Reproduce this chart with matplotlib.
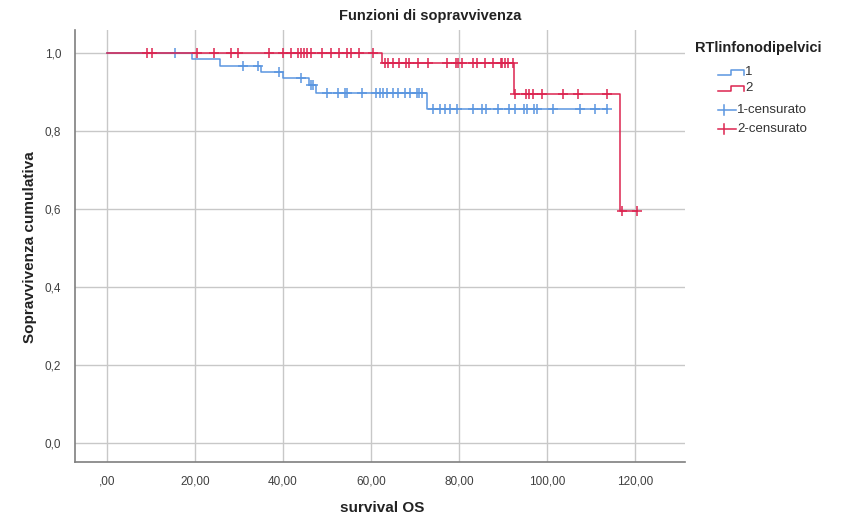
import matplotlib
matplotlib.use("Agg")
import numpy as np
from matplotlib import pyplot as plt
from matplotlib.lines import Line2D

plt.rcParams['font.family'] = ['Liberation Sans', 'DejaVu Sans']

# Kaplan-Meier steps (time, cumulative survival) and censored times per group
g1_times = [0, 19.4, 25.7, 35.0, 39.9, 46.0, 47.6, 72.7]
g1_surv = [1.0, 0.984, 0.967, 0.951, 0.935, 0.918, 0.897, 0.856]
g1_censored = [15.5, 30.8, 34.2, 39.1, 44.0, 46.4, 46.8, 49.9, 52.6, 54.1, 54.6,
               57.9, 61.1, 62.0, 62.8, 63.7, 65.1, 66.2, 67.7, 68.9, 70.5, 71.0,
               71.5, 74.2, 75.7, 76.8, 78.0, 79.6, 83.1, 85.2, 86.1, 88.9, 91.4,
               92.7, 94.8, 95.5, 97.0, 97.7, 101.4, 107.5, 110.9, 113.6]

g2_times = [0, 62.4, 92.5, 116.6]
g2_surv = [1.0, 0.974, 0.894, 0.596]
g2_censored = [9.0, 10.1, 20.5, 24.2, 28.1, 29.8, 36.7, 40.1, 41.8, 43.5, 44.0,
               44.8, 45.5, 46.4, 48.8, 50.8, 52.8, 54.5, 55.5, 57.3, 60.4, 63.2,
               63.9, 65.1, 66.4, 67.9, 68.7, 70.8, 72.9, 77.2, 79.3, 79.8, 80.6,
               83.1, 84.1, 85.9, 87.8, 89.5, 89.9, 90.5, 91.2, 92.2, 92.7, 95.2,
               96.0, 96.9, 98.9, 103.6, 107.1, 113.6, 117.0, 120.4]

x_ticks = [0, 20, 40, 60, 80, 100, 120]
x_ticklabels = [',00', '20,00', '40,00', '60,00', '80,00', '100,00', '120,00']
y_ticks = [0.0, 0.2, 0.4, 0.6, 0.8, 1.0]
y_ticklabels = ['0,0', '0,2', '0,4', '0,6', '0,8', '1,0']

blue = '#5b96e0'
red = '#dc2450'


def surv_at(times, surv, t):
    idx = np.searchsorted(times, t, side='right') - 1
    return np.array(surv)[idx]


W, H = 865, 518
fig = plt.figure(figsize=(W / 100, H / 100), dpi=100)
ax = fig.add_axes([75 / W, 1 - 462 / H, 610 / W, 432 / H])


def draw_group(times, surv, censored, color):
    end = max(censored[-1], times[-1])
    xs = list(times) + [end]
    ys = list(surv) + [surv[-1]]
    ax.step(xs, ys, where='post', color=color, lw=1.1)
    cy = surv_at(times, surv, censored)
    ax.plot(censored, cy, ls='none', marker='+', ms=7, mew=1.1, color=color)


draw_group(g1_times, g1_surv, g1_censored, blue)
draw_group(g2_times, g2_surv, g2_censored, red)

ax.set_xlim(-7.3, 131.4)
ax.set_ylim(-0.049, 1.059)
ax.set_xticks(x_ticks)
ax.set_xticklabels(x_ticklabels)
ax.set_yticks(y_ticks)
ax.set_yticklabels(y_ticklabels)
ax.grid(True, color='#c8c8c8', lw=1.0)
ax.set_axisbelow(True)
for s in ['top', 'right']:
    ax.spines[s].set_visible(False)
for s in ['left', 'bottom']:
    ax.spines[s].set_color('#7f7f7f')
    ax.spines[s].set_linewidth(1.2)
ax.tick_params(length=0, labelsize=8.5, labelcolor='#404040', pad=10)

fig.text(430 / W, 1 - 16 / H, 'Funzioni di sopravvivenza', ha='center', va='center',
         fontsize=10.5, fontweight='bold', color='#222222')
fig.text(30 / W, 1 - 247 / H, 'Sopravvivenza cumulativa', rotation=90, ha='center',
         va='center', fontsize=11, fontweight='bold', color='#222222')
fig.text(382 / W, 1 - 508 / H, 'survival OS', ha='center', va='center',
         fontsize=11, fontweight='bold', color='#222222')

# legend drawn by hand in pixel units
def px(x, y):
    return x / W, 1 - y / H


fig.text(*px(695, 48), 'RTlinfonodipelvici', ha='left', va='center',
         fontsize=10.5, fontweight='bold', color='#222222')
for yy, color, label in [(75, blue, '1'), (91, red, '2')]:
    xs = [718, 731, 731, 744, 744]
    ys = [yy, yy, yy - 5, yy - 5, yy]
    fx, fy = zip(*[px(a, b) for a, b in zip(xs, ys)])
    fig.add_artist(Line2D(fx, fy, color=color, lw=1.1))
    fig.text(*px(745, yy - 3), label, ha='left', va='center', fontsize=9.5,
             color='#333333')
for yy, color, label in [(110, blue, '1-censurato'), (129, red, '2-censurato')]:
    fx, fy = zip(px(718, yy), px(736, yy))
    fig.add_artist(Line2D(fx, fy, color=color, lw=1.1))
    fig.add_artist(Line2D(*zip(px(724, yy - 5), px(724, yy + 5)), color=color, lw=1.1))
    fig.text(*px(737, yy), label, ha='left', va='center', fontsize=9.5,
             color='#333333')

fig.savefig('out.png', dpi=100)
